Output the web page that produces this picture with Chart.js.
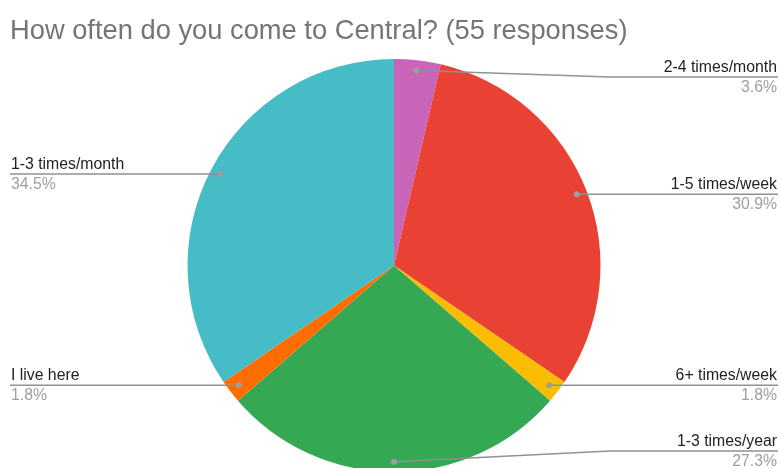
<!DOCTYPE html>
<html>
<head>
<meta charset="utf-8">
<script src="https://cdn.jsdelivr.net/npm/chart.js@4"></script>
<style>
  body { margin: 0; background: #fff; overflow: hidden; }
  .pie-wrap { position: relative; width: 780px; height: 472px; }
</style>
</head>
<body>
<div class="pie-wrap"><canvas id="pie-chart"></canvas></div>
<script>
const title = "How often do you come to Central? (55 responses)";
const labels = ["2-4 times/month", "1-5 times/week", "6+ times/week", "1-3 times/year", "I live here", "1-3 times/month"];
const counts = [2, 17, 1, 15, 1, 19];
const percents = ["3.6%", "30.9%", "1.8%", "27.3%", "1.8%", "34.5%"];
const colors = ["#c965b9", "#e94235", "#fbbc04", "#34a853", "#ff6d01", "#46bdc6"];

const font = '"Liberation Sans", Arial, sans-serif';

// leader lines + labels, drawn like the google forms pie
const calloutPlugin = {
    id: "callouts",
    afterDraw(chart) {
        const ctx = chart.ctx;
        ctx.save();
        ctx.fillStyle = "#757575";
        ctx.font = "27.3px " + font;
        ctx.textAlign = "left";
        ctx.textBaseline = "alphabetic";
        ctx.fillText(title, 10, 39);

        chart.getDatasetMeta(0).data.forEach((arc, i) => {
            let p = arc.getProps(["x", "y", "startAngle", "endAngle", "outerRadius"]);
            let mid = (p.startAngle + p.endAngle) / 2;
            let dx = p.x + Math.cos(mid) * p.outerRadius * 0.95;
            let dy = p.y + Math.sin(mid) * p.outerRadius * 0.95;
            let right = dx > p.x;
            let lineY = Math.min(Math.max(dy, 77), 451);
            let bendX = right ? 610 : 180;
            let endX = right ? 778 : 10;

            ctx.strokeStyle = "#919191";
            ctx.lineWidth = 1.5;
            ctx.beginPath();
            ctx.moveTo(dx, dy);
            if (Math.abs(lineY - dy) > 0.5) ctx.lineTo(bendX, lineY);
            ctx.lineTo(endX, lineY);
            ctx.stroke();

            ctx.fillStyle = "#9e9e9e";
            ctx.beginPath();
            ctx.arc(dx, dy, 3, 0, Math.PI * 2);
            ctx.fill();

            ctx.textAlign = right ? "right" : "left";
            let tx = right ? 777 : 11;
            ctx.font = "15.8px " + font;
            ctx.fillStyle = "#222222";
            ctx.fillText(labels[i], tx, lineY - 5);
            ctx.fillStyle = "#9e9e9e";
            ctx.fillText(percents[i], tx, lineY + 15);
        });
        ctx.restore();
    }
};

new Chart(document.getElementById("pie-chart"), {
    type: "pie",
    data: {
        labels: labels,
        datasets: [{
            data: counts,
            backgroundColor: colors,
            borderWidth: 0
        }]
    },
    options: {
        responsive: true,
        maintainAspectRatio: false,
        animation: false,
        events: [],
        layout: { padding: { top: 59, bottom: 0, left: 8, right: 0 } },
        plugins: {
            legend: { display: false },
            tooltip: { enabled: false }
        }
    },
    plugins: [calloutPlugin]
});
</script>
</body>
</html>
